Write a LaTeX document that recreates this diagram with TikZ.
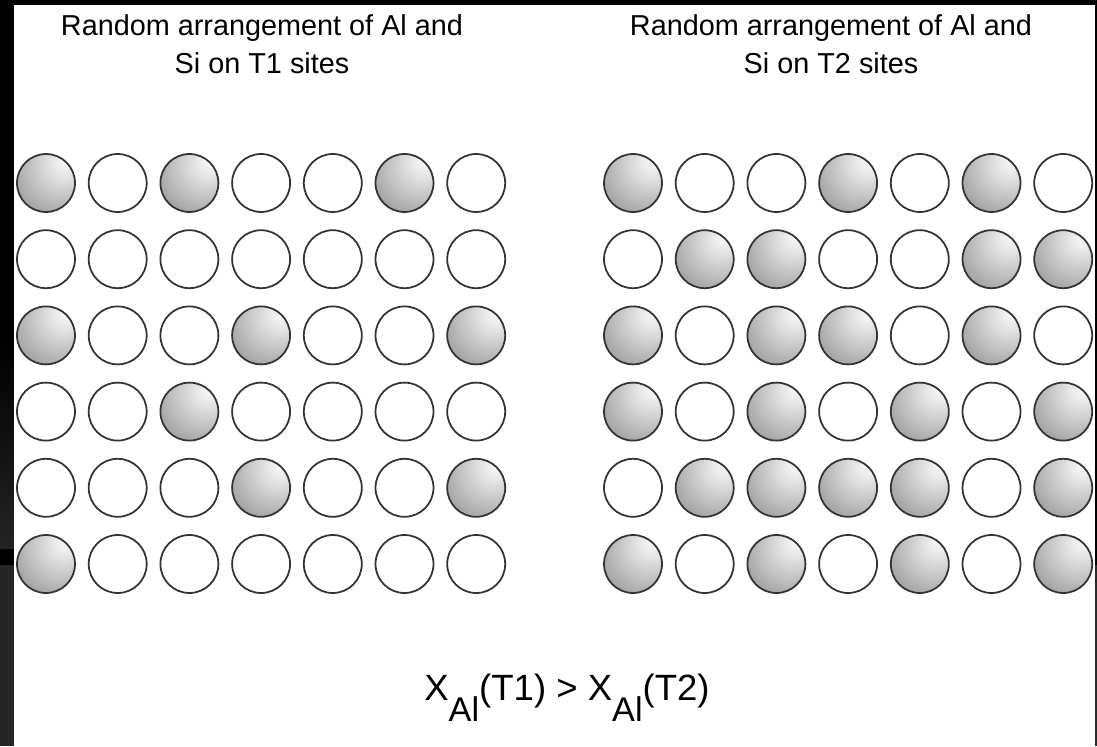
\documentclass[tikz,border=0pt]{standalone}
\usepackage{fontspec}
\setmainfont{Liberation Sans}
\usepackage{tikz}
\usetikzlibrary{positioning}
% shaded ball for the Al sites, light spot up right
\pgfdeclareradialshading{atomball}{\pgfpoint{18bp}{20bp}}{%
  color(0bp)=(black!2); color(10bp)=(black!9); color(25bp)=(black!22);
  color(45bp)=(black!40); color(65bp)=(black!57); color(100bp)=(black!66)}
\newcommand{\xal}{X\raisebox{-0.58em}{\fontsize{19.5pt}{19.5pt}\selectfont Al}}
\tikzset{
  site/.style={circle, draw=black!80, line width=1pt, minimum size=1.16cm, inner sep=0pt},
  alsite/.style={site, shading=atomball},
  sisite/.style={site, fill=white},
  heading/.style={align=center, inner sep=0pt, font=\fontsize{16.4pt}{21.6pt}\selectfont},
}

\begin{document}
\begin{tikzpicture}[x=0.02cm, y=-0.02cm]
      \useasboundingbox (0,0) rectangle (1097,746);
      % slide frame
      \fill[black] (0,0) rectangle (1097,746);
      \shade[top color=black, bottom color=black!86] (0,340) rectangle (14,548);
      \fill[black!85] (0,565) rectangle (14,746);
      \fill[black!83] (1095,565) rectangle (1097,746);
      \fill[white] (14,5) rectangle (1095,746);
      % headings
      \node[heading, anchor=north] (titleL) at (262,14) {Random arrangement of Al and\\Si on T1 sites};
      \node[heading, anchor=north] (titleR) at (831,14) {Random arrangement of Al and\\Si on T2 sites};
      % T1 sites (1 = Al, 0 = Si)
      \foreach \row [count=\r] in {{1,0,1,0,0,1,0},{0,0,0,0,0,0,0},{1,0,0,1,0,0,1},
                                   {0,0,1,0,0,0,0},{0,0,0,1,0,0,1},{1,0,0,0,0,0,0}}{
        \foreach \c [count=\k] in \row {
          \ifnum\c=1
            \node[alsite] (L\r\k) at ({46+71.7*(\k-1)},{183+76.2*(\r-1)}) {};
          \else
            \node[sisite] (L\r\k) at ({46+71.7*(\k-1)},{183+76.2*(\r-1)}) {};
          \fi
        }
      }
      % T2 sites
      \foreach \row [count=\r] in {{1,0,0,1,0,1,0},{0,1,1,0,0,1,1},{1,0,1,1,0,1,0},
                                   {1,0,1,0,1,0,1},{0,1,1,1,1,0,1},{1,0,1,0,1,0,1}}{
        \foreach \c [count=\k] in \row {
          \ifnum\c=1
            \node[alsite] (R\r\k) at ({633+71.7*(\k-1)},{183+76.2*(\r-1)}) {};
          \else
            \node[sisite] (R\r\k) at ({633+71.7*(\k-1)},{183+76.2*(\r-1)}) {};
          \fi
        }
      }
      % relation
      \node[anchor=base, inner sep=0pt, font=\fontsize{20.8pt}{24pt}\selectfont] (relation) at (567,700)
        {\xal(T1) > \xal(T2)};
    \end{tikzpicture}
\end{document}
